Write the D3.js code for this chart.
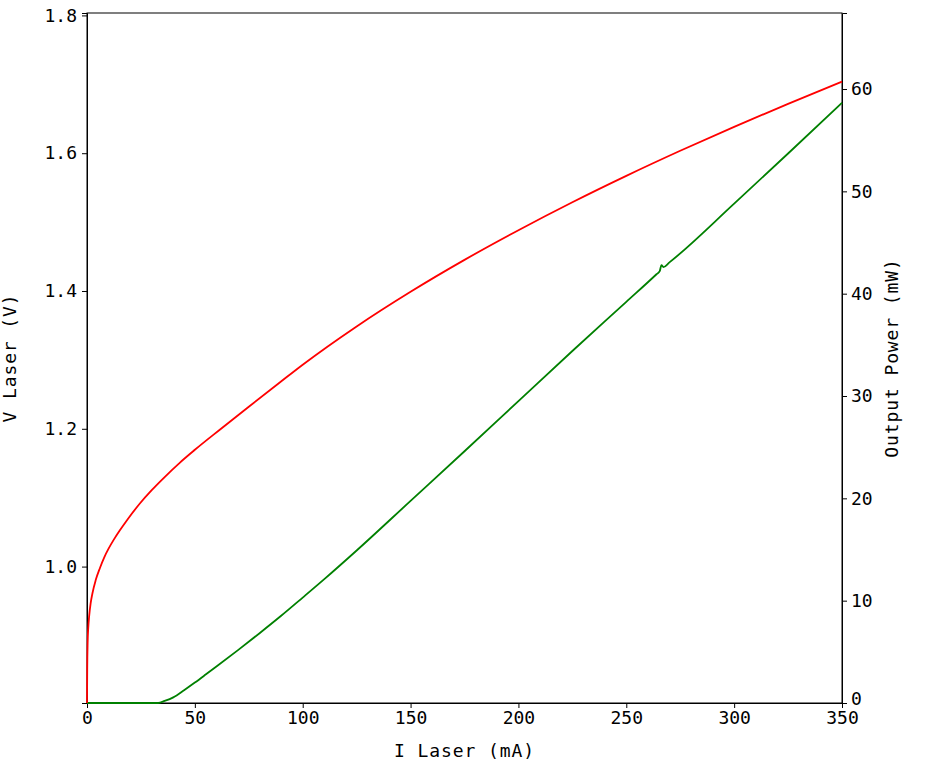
<!DOCTYPE html>
<html>
<head>
<meta charset="utf-8">
<script src="https://cdn.jsdelivr.net/npm/d3@7"></script>
<style>
  html, body { margin: 0; padding: 0; background: #fff; }
  svg { display: block; }
  .tick text { font-family: "DejaVu Sans Mono", monospace; font-size: 18px; fill: #000; }
  .lbl { font-family: "DejaVu Sans Mono", monospace; font-size: 18px; letter-spacing: 0.9px; fill: #000; }
</style>
</head>
<body>
<svg id="chart" width="934" height="764"></svg>
<script>
// ---- data ----
const ivCurrent = [0, 0.1, 0.3, 0.6, 1.0, 1.7, 2.5, 4.0, 6.0, 8.0, 10, 12.5, 15, 18.7, 24.6, 30, 36, 43.1, 50, 61.7, 75, 89.5, 100, 125, 150, 175, 200, 225, 250, 275, 300, 325, 350];
const ivVoltage = [0.802, 0.85, 0.89, 0.912, 0.928, 0.947, 0.961, 0.980, 0.998, 1.0135, 1.026, 1.0395, 1.0515, 1.068, 1.092, 1.111, 1.130, 1.151, 1.1695, 1.199, 1.232, 1.2675, 1.293, 1.3486, 1.3989, 1.4452, 1.4882, 1.5288, 1.5671, 1.6035, 1.6383, 1.6717, 1.704];

const liCurrent = [0, 33, 36, 40, 45, 50, 55, 60, 70, 80, 90, 100, 110, 125, 150, 175, 200, 225, 250, 264, 265.5, 266.3, 267.2, 270, 300, 325, 350];
const liPower   = [0, 0, 0.2, 0.55, 1.25, 2.0, 2.78, 3.57, 5.17, 6.82, 8.52, 10.3, 12.1, 14.9, 19.75, 24.6, 29.5, 34.4, 39.2, 41.9, 42.2, 42.8, 42.6, 43.06, 48.8, 53.7, 58.66];

const xTicks = [0, 50, 100, 150, 200, 250, 300, 350];
const yLeftTicks = [1.0, 1.2, 1.4, 1.6, 1.8];
const yRightTicks = [0, 10, 20, 30, 40, 50, 60];

// ---- layout ----
const L = 87, R = 842, T = 13, B = 703;
const svg = d3.select("#chart");

const x = d3.scaleLinear().domain([0, 350]).range([L, R]);
const yL = d3.scaleLinear().domain([0.802, 1.8035]).range([B, T]);
const yR = d3.scaleLinear().domain([0, 67.43]).range([B, T]);

// frame
svg.append("rect").attr("x", L).attr("y", T).attr("width", R - L).attr("height", B - T)
  .attr("fill", "none").attr("stroke", "#000").attr("stroke-width", 1);

const xAxis = svg.append("g").attr("transform", `translate(0,${B})`)
  .call(d3.axisBottom(x).tickValues(xTicks).tickFormat(d3.format("d")).tickSizeOuter(0).tickSize(5).tickPadding(3));
const yAxisL = svg.append("g").attr("transform", `translate(${L},0)`)
  .call(d3.axisLeft(yL).tickValues(yLeftTicks).tickFormat(d3.format(".1f")).tickSizeOuter(0).tickSize(5).tickPadding(5));
const yAxisR = svg.append("g").attr("transform", `translate(${R},0)`)
  .call(d3.axisRight(yR).tickValues(yRightTicks).tickFormat(d3.format("d")).tickSizeOuter(0).tickSize(5).tickPadding(4));

[xAxis, yAxisL, yAxisR].forEach(g => {
  g.select(".domain").attr("stroke", "#000");
  g.selectAll(".tick line").attr("stroke", "#000");
  g.attr("font-family", null).attr("font-size", null);
});
// right-axis "0" sits a touch above the corner so it clears the "350" below it
yAxisR.selectAll(".tick").filter(d => d === 0).select("text").attr("dy", "0.1em");

// lines
const ivData = ivCurrent.map((c, i) => [c, ivVoltage[i]]);
const liData = liCurrent.map((c, i) => [c, liPower[i]]);

svg.append("path").datum(liData)
  .attr("d", d3.line().x(d => x(d[0])).y(d => yR(d[1])).curve(d3.curveMonotoneX))
  .attr("fill", "none").attr("stroke", "#008000").attr("stroke-width", 1.8);

svg.append("path").datum(ivData)
  .attr("d", d3.line().x(d => x(d[0])).y(d => yL(d[1])).curve(d3.curveMonotoneX))
  .attr("fill", "none").attr("stroke", "#ff0000").attr("stroke-width", 1.8);

// axis labels
svg.append("text").attr("class", "lbl").attr("x", (L + R) / 2).attr("y", 757)
  .attr("text-anchor", "middle").text("I Laser (mA)");
svg.append("text").attr("class", "lbl").attr("transform", `translate(16,${(T + B) / 2}) rotate(-90)`)
  .attr("text-anchor", "middle").text("V Laser (V)");
svg.append("text").attr("class", "lbl").attr("transform", `translate(898,${(T + B) / 2}) rotate(-90)`)
  .attr("text-anchor", "middle").text("Output Power (mW)");
</script>
</body>
</html>
